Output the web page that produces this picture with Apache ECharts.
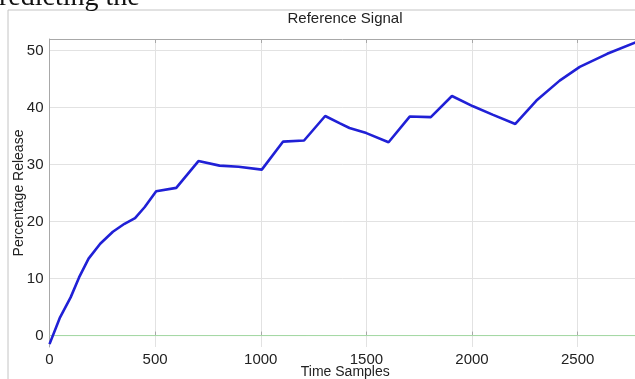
<!DOCTYPE html>
<html>
<head>
<meta charset="utf-8">
<script src="https://cdn.jsdelivr.net/npm/echarts@6/dist/echarts.min.js"></script>
<style>
html,body{margin:0;padding:0;background:#fff;}
#c{width:635px;height:379px;}
</style>
</head>
<body>
<div id="c"></div>
<script>
var timeSamples = [0, 50, 100, 140, 185, 240, 300, 355, 405, 450, 505, 600, 705, 805, 895, 1005, 1105, 1205, 1305, 1375, 1420, 1500, 1605, 1705, 1805, 1905, 2005, 2100, 2205, 2305, 2415, 2510, 2640, 2800];
var percentRelease = [-1.5, 3.2, 6.7, 10.2, 13.5, 16.1, 18.2, 19.6, 20.6, 22.5, 25.3, 25.9, 30.6, 29.8, 29.6, 29.1, 34.0, 34.2, 38.5, 37.2, 36.4, 35.5, 33.9, 38.4, 38.3, 42.0, 40.2, 38.7, 37.1, 41.2, 44.7, 47.1, 49.4, 51.8];
var zeroLineX = [0, 2800];
var zeroLineY = [0, 0];
var xTicks = [0, 500, 1000, 1500, 2000, 2500];
var yTicks = [0, 10, 20, 30, 40, 50];

var chart = echarts.init(document.getElementById('c'), null, {renderer: 'canvas'});
var font = 'Liberation Sans, Arial, sans-serif';
var signal = timeSamples.map(function (t, i) { return [t, percentRelease[i]]; });
var zero = zeroLineX.map(function (t, i) { return [t, zeroLineY[i]]; });

chart.setOption({
  animation: false,
  backgroundColor: '#fff',
  graphic: [
    {type: 'rect', shape: {x: 8, y: 10, width: 700, height: 500}, style: {fill: 'none', stroke: '#c4c4c4', lineWidth: 1}, z: -10},
    {type: 'text', x: -15, y: 12, style: {text: 'predicting the', font: '28px "Liberation Serif", serif', fill: '#111', textVerticalAlign: 'bottom'}},
    {type: 'text', x: 345, y: 19, style: {text: 'Reference Signal', font: '15px ' + font, fill: '#222', textAlign: 'center', textVerticalAlign: 'middle'}}
  ],
  grid: {left: 49.5, top: 39, right: -6, bottom: 32, containLabel: false, outerBoundsMode: 'none'},
  xAxis: [{
    type: 'value', min: 0, max: 2800, interval: 500,
    name: 'Time Samples', nameLocation: 'middle', nameGap: 18, nameMoveOverlap: false,
    nameTextStyle: {fontFamily: font, fontSize: 14, color: '#222', verticalAlign: 'top'},
    axisLine: {show: true, lineStyle: {color: '#a8a8a8', width: 1}},
    axisTick: {show: true, inside: true, length: 4, lineStyle: {color: '#a8a8a8'}},
    axisLabel: {fontFamily: font, fontSize: 15, color: '#222', margin: 5,
      formatter: function (v) { return xTicks.indexOf(v) >= 0 ? String(v) : ''; }},
    splitLine: {show: true, lineStyle: {color: '#e2e2e2', width: 1}}
  }, {
    type: 'value', position: 'top', min: 0, max: 2800, interval: 500,
    axisLine: {show: true, lineStyle: {color: '#a8a8a8', width: 1}},
    axisTick: {show: true, inside: true, length: 4, lineStyle: {color: '#a8a8a8'}},
    axisLabel: {show: false}, splitLine: {show: false}
  }],
  yAxis: {
    type: 'value', min: -2, max: 52,
    name: 'Percentage Release', nameLocation: 'middle', nameGap: 23, nameMoveOverlap: false,
    nameTextStyle: {fontFamily: font, fontSize: 14, color: '#222'},
    axisLine: {show: true, lineStyle: {color: '#a8a8a8', width: 1}},
    axisTick: {show: false},
    axisLabel: {fontFamily: font, fontSize: 15, color: '#222', margin: 6,
      formatter: function (v) { return yTicks.indexOf(v) >= 0 ? String(v) : ''; }},
    splitLine: {show: true, lineStyle: {color: '#e2e2e2', width: 1},
      showMinLine: false, showMaxLine: false}
  },
  series: [{
    type: 'line', data: zero, symbol: 'none', silent: true,
    lineStyle: {color: '#a6dca6', width: 1}, z: 2
  }, {
    type: 'line', data: signal, symbol: 'none', smooth: false,
    lineStyle: {color: '#2020d6', width: 2.6}, z: 3
  }]
});
</script>
</body>
</html>
